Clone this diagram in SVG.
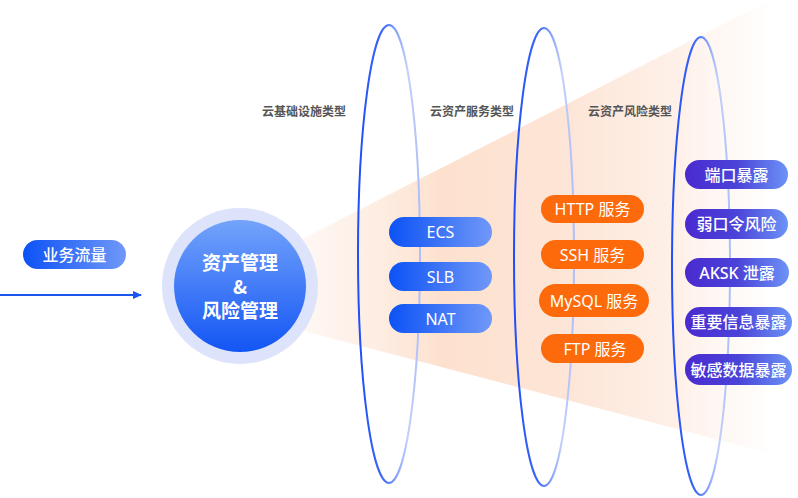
<svg xmlns="http://www.w3.org/2000/svg" width="798" height="498" viewBox="0 0 798 498">
<defs>
<linearGradient id="cone" x1="300" y1="0" x2="770" y2="0" gradientUnits="userSpaceOnUse">
<stop offset="0" stop-color="#fdf0e8" stop-opacity="0.5"/>
<stop offset="0.3" stop-color="#fde1ce"/>
<stop offset="0.55" stop-color="#fde5d6"/>
<stop offset="0.8" stop-color="#fef0e8"/>
<stop offset="1" stop-color="#fff8f4" stop-opacity="0.3"/>
</linearGradient>
<linearGradient id="ring" x1="0" y1="0" x2="1" y2="0">
<stop offset="0" stop-color="#1f4ff5"/>
<stop offset="0.4" stop-color="#3d68f6"/>
<stop offset="0.8" stop-color="#c3d0fb"/>
<stop offset="1" stop-color="#aebff9"/>
</linearGradient>
<linearGradient id="blue" x1="0" y1="0" x2="1" y2="0">
<stop offset="0" stop-color="#0c52f5"/>
<stop offset="1" stop-color="#7098f8"/>
</linearGradient>
<linearGradient id="purple" x1="0" y1="0" x2="1" y2="0">
<stop offset="0" stop-color="#4a2ad0"/>
<stop offset="0.5" stop-color="#4b43d8"/>
<stop offset="1" stop-color="#6c93f7"/>
</linearGradient>
<linearGradient id="core" x1="0" y1="0" x2="0" y2="1">
<stop offset="0" stop-color="#73a3fb"/>
<stop offset="1" stop-color="#1355f4"/>
</linearGradient>
<marker id="ah" markerWidth="9" markerHeight="8" refX="8" refY="4" orient="auto" markerUnits="userSpaceOnUse">
<path d="M0,0 L9,4 L0,8 Z" fill="#1b55f0"/>
</marker>
<style>
.lbl{font-family:"Noto Sans CJK SC","Noto Sans",sans-serif;font-size:12px;font-weight:bold;fill:#555;text-anchor:middle}
.pt{font-family:"Noto Sans","Noto Sans CJK SC",sans-serif;font-size:16px;fill:#fff;text-anchor:middle;dominant-baseline:central}
.pb{font-weight:500}
.ct{font-family:"Noto Sans CJK SC",sans-serif;font-size:19px;font-weight:bold;fill:#fff;text-anchor:middle}
.ring{fill:none;stroke:url(#ring);stroke-width:2}
</style>
</defs>

<polygon points="300,240 765,3 765,452 300,330" fill="url(#cone)"/>

<g id="rings">
<ellipse class="ring" cx="389" cy="254" rx="31" ry="229"/>
<ellipse class="ring" cx="544" cy="257" rx="30" ry="229"/>
<ellipse class="ring" cx="701" cy="266" rx="29" ry="229"/>
</g>

<g id="connectors">
<line x1="0" y1="295" x2="141" y2="295" stroke="#1b55f0" stroke-width="2.2" marker-end="url(#ah)"/>
</g>

<g id="labels">
<text class="lbl" x="304" y="116">云基础设施类型</text>
<text class="lbl" x="472" y="116">云资产服务类型</text>
<text class="lbl" x="630" y="116">云资产风险类型</text>
</g>

<g id="traffic">
<rect x="23" y="240" width="103" height="29" rx="14.5" fill="url(#blue)"/>
<text class="pt pb" x="74.5" y="254.5">业务流量</text>
</g>

<g id="core">
<circle cx="240" cy="286" r="78" fill="#dce3fb"/>
<circle cx="240" cy="286" r="66" fill="url(#core)"/>
<text class="ct" x="240" y="270">资产管理</text>
<text class="ct" x="240" y="294">&amp;</text>
<text class="ct" x="240" y="318">风险管理</text>
</g>

<g id="ecs"><rect x="389" y="217" width="103" height="30" rx="15" fill="url(#blue)"/><text class="pt" x="440.5" y="232">ECS</text></g>
<g id="slb"><rect x="389" y="262" width="103" height="29" rx="14.5" fill="url(#blue)"/><text class="pt" x="440.5" y="276.5">SLB</text></g>
<g id="nat"><rect x="389" y="304" width="103" height="29" rx="14.5" fill="url(#blue)"/><text class="pt" x="440.5" y="318.5">NAT</text></g>

<g id="http"><rect x="541" y="195" width="103" height="28" rx="14" fill="#fd6a0b"/><text class="pt" x="592.5" y="209">HTTP 服务</text></g>
<g id="ssh"><rect x="541" y="240" width="103" height="29" rx="14.5" fill="#fd6a0b"/><text class="pt" x="592.5" y="254.5">SSH 服务</text></g>
<g id="mysql"><rect x="539" y="284" width="110" height="33" rx="16.5" fill="#fd6a0b"/><text class="pt" x="594" y="300.5">MySQL 服务</text></g>
<g id="ftp"><rect x="541" y="334" width="103" height="29" rx="14.5" fill="#fd6a0b"/><text class="pt" x="595" y="348.5">FTP 服务</text></g>

<g id="port"><rect x="685" y="160" width="103" height="29" rx="14.5" fill="url(#purple)"/><text class="pt pb" x="736.5" y="174.5">端口暴露</text></g>
<g id="weak"><rect x="685" y="209" width="103" height="30" rx="15" fill="url(#purple)"/><text class="pt pb" x="736.5" y="224">弱口令风险</text></g>
<g id="aksk"><rect x="685" y="258" width="104" height="29" rx="14.5" fill="url(#purple)"/><text class="pt pb" x="737" y="272.5">AKSK 泄露</text></g>
<g id="info"><rect x="685" y="307" width="107" height="30" rx="15" fill="url(#purple)"/><text class="pt pb" x="738.5" y="322">重要信息暴露</text></g>
<g id="data"><rect x="685" y="354" width="107" height="31" rx="15.5" fill="url(#purple)"/><text class="pt pb" x="738.5" y="369.5">敏感数据暴露</text></g>
</svg>
